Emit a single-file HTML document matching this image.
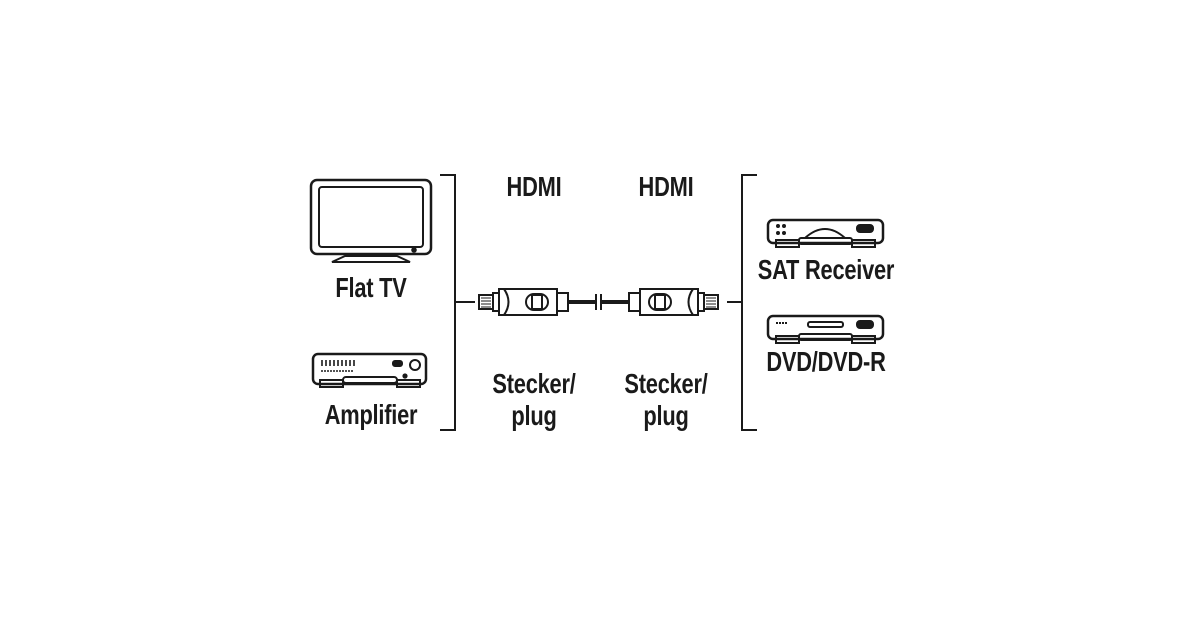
<!DOCTYPE html>
<html><head><style>
body{margin:0;background:#fff;width:1200px;height:630px;overflow:hidden;position:relative;font-family:"Liberation Sans",sans-serif;}
.t{position:absolute;font-weight:bold;font-size:28px;color:#1a1a1a;transform:translateX(-50%) scaleX(0.78);white-space:nowrap;line-height:1;letter-spacing:-0.3px}
svg{position:absolute;left:0;top:0}
</style></head><body>
<svg width="1200" height="630" fill="none" stroke="#1a1a1a" stroke-width="2">
<path d="M440 175H455V430H440M455 302H475"/>
<path d="M757 175H742V430H757M742 302H727"/>
<rect x="311" y="180" width="120" height="74" rx="6" stroke-width="2.5"/>
<rect x="319" y="187" width="104" height="60" rx="3"/>
<circle cx="414" cy="250" r="1.8" fill="#1a1a1a"/>
<path d="M345 256L332 262H410L397 256Z"/>
<rect x="313" y="354" width="113" height="30" rx="5" stroke-width="2.5"/>
<path d="M320 380h23v7h-23zM397 380h23v7h-23z"/>
<rect x="343" y="377" width="54" height="6" rx="3"/>
<path d="M322 360v6M326 360v6M330 360v6M334 360v6M338 360v6M342 360v6M346 360v6M350 360v6M354 360v6" stroke-width="1.6"/>
<path d="M321 371h32" stroke-dasharray="2 1" stroke-width="1.6"/>
<rect x="393" y="361" width="9" height="5" rx="2" fill="#1a1a1a"/>
<circle cx="415" cy="365" r="5"/>
<circle cx="405" cy="376" r="1.6" fill="#1a1a1a"/>
<rect x="768" y="220" width="115" height="23" rx="5" stroke-width="2.5"/>
<path d="M776 240h23v7h-23zM852 240h23v7h-23z"/>
<rect x="799" y="238" width="53" height="6" rx="2"/>
<path d="M805 238Q825 220 845 238"/>
<rect x="857" y="225" width="16" height="7" rx="3" fill="#1a1a1a"/>
<circle cx="778" cy="226" r="1" fill="#1a1a1a"/><circle cx="784" cy="226" r="1" fill="#1a1a1a"/>
<circle cx="778" cy="233" r="1" fill="#1a1a1a"/><circle cx="784" cy="233" r="1" fill="#1a1a1a"/>
<rect x="768" y="316" width="115" height="23" rx="5" stroke-width="2.5"/>
<path d="M776 336h23v7h-23zM852 336h23v7h-23z"/>
<rect x="799" y="334" width="53" height="6" rx="2"/>
<rect x="808" y="322" width="35" height="5" rx="2"/>
<rect x="857" y="321" width="16" height="7" rx="3" fill="#1a1a1a"/>
<path d="M776 323h12" stroke-dasharray="2 1" stroke-width="2"/>
<path d="M568 302H596M601 302H630" stroke-width="4"/>
<path d="M596 294V310M601 294V310"/>
<g>
<rect x="479" y="295" width="14" height="14"/>
<path d="M481 298h10M481 301h10M481 304h10M481 307h10" stroke-width="1"/>
<rect x="493" y="293" width="6" height="18"/>
<rect x="499" y="289" width="58" height="26"/>
<path d="M504 289Q513 302 504 315"/>
<rect x="526" y="294" width="22" height="16" rx="8"/>
<rect x="532" y="295" width="10" height="14"/>
<rect x="557" y="293" width="11" height="18"/>
</g>
<g transform="translate(1197 0) scale(-1 1)">
<rect x="479" y="295" width="14" height="14"/>
<path d="M481 298h10M481 301h10M481 304h10M481 307h10" stroke-width="1"/>
<rect x="493" y="293" width="6" height="18"/>
<rect x="499" y="289" width="58" height="26"/>
<path d="M504 289Q513 302 504 315"/>
<rect x="526" y="294" width="22" height="16" rx="8"/>
<rect x="532" y="295" width="10" height="14"/>
<rect x="557" y="293" width="11" height="18"/>
</g>
</svg>
<div class="t" style="left:371px;top:274px">Flat TV</div>
<div class="t" style="left:371px;top:401px">Amplifier</div>
<div class="t" style="left:534px;top:173px">HDMI</div>
<div class="t" style="left:666px;top:173px">HDMI</div>
<div class="t" style="left:534px;top:370px">Stecker/</div>
<div class="t" style="left:534px;top:402px">plug</div>
<div class="t" style="left:666px;top:370px">Stecker/</div>
<div class="t" style="left:666px;top:402px">plug</div>
<div class="t" style="left:826px;top:256px">SAT Receiver</div>
<div class="t" style="left:826px;top:348px">DVD/DVD-R</div>
</body></html>
